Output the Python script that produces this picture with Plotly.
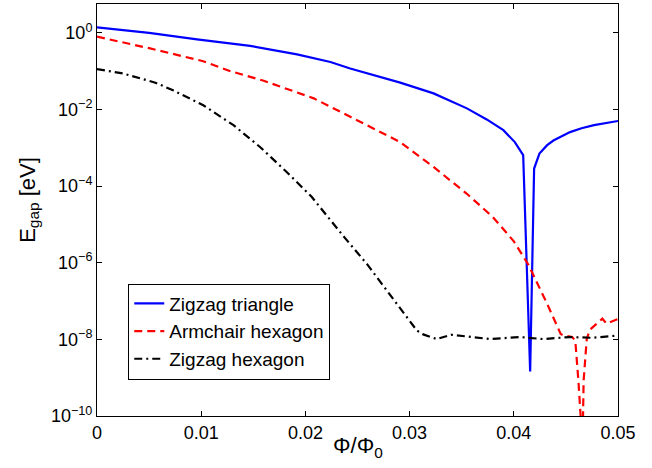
import plotly.graph_objects as go

# Zigzag triangle
x_tri = [0.0, 0.005, 0.0096, 0.0147, 0.0192, 0.0224, 0.0243, 0.0265, 0.0291, 0.0323,
         0.0355, 0.0374, 0.0390, 0.0401, 0.0409, 0.04157, 0.04195, 0.04246, 0.0432,
         0.0438, 0.0454, 0.0465, 0.0477, 0.0500]
e_tri = [1.393, 1.0, 0.676, 0.457, 0.275, 0.174, 0.1175, 0.0794, 0.0501, 0.0263,
         0.0107, 0.0055, 0.00288, 0.00141, 6.46e-4, 1.45e-9, 2.88e-4, 7.08e-4, 1.17e-3,
         1.55e-3, 2.57e-3, 3.24e-3, 3.89e-3, 5.01e-3]

# Armchair hexagon
x_arm = [0.0, 0.005, 0.0102, 0.0128, 0.0160, 0.0208, 0.0243, 0.0291, 0.0323, 0.0355,
         0.0380, 0.0400, 0.0414, 0.0432, 0.0445, 0.0448, 0.0456, 0.0459, 0.0462,
         0.0466, 0.0467, 0.0470, 0.0473, 0.0485, 0.0489, 0.0500]
e_arm = [0.794, 0.398, 0.182, 0.1, 0.0562, 0.0195, 6.46e-3, 1.41e-3, 3.16e-4, 6.3e-5,
         1.55e-5, 3.63e-6, 8.9e-7, 8.5e-8, 1.38e-8, 1.26e-8, 1.15e-8, 9.3e-9, 8.3e-10,
         1.6e-11, 8.3e-10, 1.02e-8, 1.78e-8, 3.47e-8, 2.57e-8, 3.39e-8]

# Zigzag hexagon
x_hex = [0.0, 0.0025, 0.0056, 0.0073, 0.0102, 0.0131, 0.0157, 0.0182, 0.0206, 0.0214,
         0.0236, 0.0259, 0.0278, 0.0297, 0.0307, 0.0313, 0.0326, 0.0340, 0.0358,
         0.0377, 0.0406, 0.0428, 0.0454, 0.0475, 0.0500]
e_hex = [0.1135, 0.0871, 0.0501, 0.0316, 0.0129, 3.89e-3, 1.02e-3, 2.34e-4, 5.25e-5, 2.82e-5,
         5.13e-6, 9.3e-7, 1.91e-7, 3.8e-8, 1.7e-8, 1.35e-8, 1.02e-8, 1.32e-8, 1.15e-8,
         1.02e-8, 1.15e-8, 1.02e-8, 1.15e-8, 1.1e-8, 1.26e-8]

series_names = ["Zigzag triangle", "Armchair hexagon", "Zigzag hexagon"]

x_ticks = [0, 0.01, 0.02, 0.03, 0.04, 0.05]
x_ticktext = ["0", "0.01", "0.02", "0.03", "0.04", "0.05"]
y_ticks = [1e0, 1e-2, 1e-4, 1e-6, 1e-8, 1e-10]
y_ticktext = ["10<sup>0</sup>", "10<sup>−2</sup>", "10<sup>−4</sup>", "10<sup>−6</sup>",
              "10<sup>−8</sup>", "10<sup>−10</sup>"]

FONT = "Liberation Sans, Arial, sans-serif"

fig = go.Figure()
fig.add_trace(go.Scatter(x=x_tri, y=e_tri, mode="lines", name=series_names[0],
                         line=dict(color="#0000ff", width=2.2)))
fig.add_trace(go.Scatter(x=x_arm, y=e_arm, mode="lines", name=series_names[1],
                         line=dict(color="#ff0000", width=2.2, dash="8px,5px")))
fig.add_trace(go.Scatter(x=x_hex, y=e_hex, mode="lines", name=series_names[2],
                         line=dict(color="#000000", width=2.2, dash="8px,4px,2px,4px")))

axis_common = dict(showline=True, linecolor="black", linewidth=1, mirror="ticks",
                   ticks="inside", ticklen=5, tickwidth=1, tickcolor="black",
                   showgrid=False, zeroline=False,
                   tickfont=dict(family=FONT, size=18, color="black"))

fig.update_xaxes(range=[0, 0.05], tickvals=x_ticks, ticktext=x_ticktext, **axis_common)
fig.update_yaxes(type="log", range=[-10, 0.753], tickvals=y_ticks, ticktext=y_ticktext,
                 **axis_common)

fig.add_annotation(text="E<sub>gap</sub> [eV]", xref="paper", yref="paper",
                   x=-0.131, y=0.524, xanchor="center", yanchor="middle",
                   textangle=-90, showarrow=False,
                   font=dict(family=FONT, size=22, color="black"))
fig.add_annotation(text="Φ/Φ<sub>0</sub>", xref="paper", yref="paper",
                   x=0.5, y=-0.076, xanchor="center", yanchor="middle",
                   showarrow=False, font=dict(family=FONT, size=22, color="black"))

fig.update_layout(
    width=652, height=468,
    margin=dict(l=97, r=34, t=4, b=52),
    paper_bgcolor="white", plot_bgcolor="white",
    showlegend=True,
    legend=dict(x=0.06, y=0.3216, xanchor="left", yanchor="top",
                bgcolor="white", bordercolor="black", borderwidth=1,
                font=dict(family=FONT, size=19, color="black"),
                tracegroupgap=0, itemwidth=30),
)

fig.write_html("out.html", config={"displayModeBar": False},
               post_script="document.body.style.margin='0px';document.body.style.overflow='hidden';")
